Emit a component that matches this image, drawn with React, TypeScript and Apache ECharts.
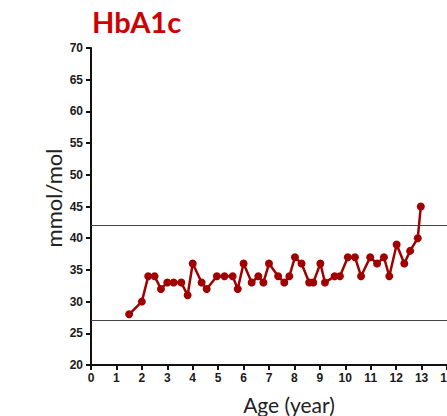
import React, { useEffect, useRef } from "react";
import * as echarts from "echarts";

const ages = [1.5, 2.0, 2.25, 2.5, 2.75, 3.0, 3.25, 3.55, 3.8, 4.0, 4.35, 4.55, 4.95, 5.25, 5.57, 5.77, 6.0, 6.32, 6.58, 6.78, 7.0, 7.36, 7.6, 7.8, 8.02, 8.28, 8.58, 8.74, 9.02, 9.2, 9.58, 9.79, 10.1, 10.38, 10.62, 10.98, 11.25, 11.52, 11.73, 12.02, 12.32, 12.55, 12.85, 12.97];
const hba1c = [28, 30, 34, 34, 32, 33, 33, 33, 31, 36, 33, 32, 34, 34, 34, 32, 36, 33, 34, 33, 36, 34, 33, 34, 37, 36, 33, 33, 36, 33, 34, 34, 37, 37, 34, 37, 36, 37, 34, 39, 36, 38, 40, 45];
const referenceLines = [42, 27];
const title = "HbA1c";
const yTitle = "mmol/mol";
const xTitle = "Age (year)";

export default function App() {
  const ref = useRef<HTMLDivElement>(null);
  useEffect(() => {
    if (!ref.current) return;
    const chart = echarts.init(ref.current, undefined, { renderer: "svg" });
    const axisLabel = {
      fontFamily: "Liberation Sans",
      fontWeight: "bold" as const,
      fontSize: 12,
      color: "#1a1a1a",
    };
    chart.setOption({
      animation: false,
      grid: { left: 91, top: 48, right: 0, bottom: 51, containLabel: false, outerBoundsMode: "none" },
      graphic: [
        {
          type: "text",
          x: 92,
          y: 21,
          style: {
            text: title,
            fontFamily: "Lato",
            fontWeight: "bold",
            fontSize: 29,
            fill: "#d00000",
            textAlign: "left",
            textVerticalAlign: "middle",
          },
        },
        {
          type: "text",
          x: 53,
          y: 198,
          rotation: Math.PI / 2,
          style: {
            text: yTitle,
            fontFamily: "Lato",
            fontSize: 22,
            fill: "#222",
            textAlign: "center",
            textVerticalAlign: "middle",
          },
        },
        {
          type: "text",
          x: 289,
          y: 404,
          style: {
            text: xTitle,
            fontFamily: "Lato",
            fontSize: 21,
            fill: "#222",
            textAlign: "center",
            textVerticalAlign: "middle",
          },
        },
      ],
      xAxis: {
        type: "value",
        min: 0,
        max: 14,
        interval: 1,
        splitLine: { show: false },
        axisLine: { show: true, onZero: false, lineStyle: { color: "#111", width: 2 } },
        axisTick: { show: true, length: 5, lineStyle: { color: "#111", width: 2 } },
        axisLabel: { ...axisLabel, margin: 7 },
      },
      yAxis: {
        type: "value",
        min: 20,
        max: 70,
        interval: 5,
        splitLine: { show: false },
        axisLine: { show: true, onZero: false, lineStyle: { color: "#111", width: 2 } },
        axisTick: { show: true, length: 5, lineStyle: { color: "#111", width: 2 } },
        axisLabel: { ...axisLabel, margin: 8 },
      },
      series: [
        {
          type: "line",
          data: ages.map((a, i) => [a, hba1c[i]]),
          symbol: "circle",
          symbolSize: 8,
          lineStyle: { color: "#a00000", width: 2.5 },
          itemStyle: { color: "#a00000" },
          markLine: {
            silent: true,
            symbol: "none",
            label: { show: false },
            lineStyle: { color: "#444", width: 1.2, type: "solid" },
            data: referenceLines.map((v) => ({ yAxis: v })),
          },
        },
      ],
    });
    return () => chart.dispose();
  }, []);
  return (
    <div
      ref={ref}
      style={{ position: "absolute", left: 0, top: 0, width: 447, height: 416, background: "#fff" }}
    />
  );
}
